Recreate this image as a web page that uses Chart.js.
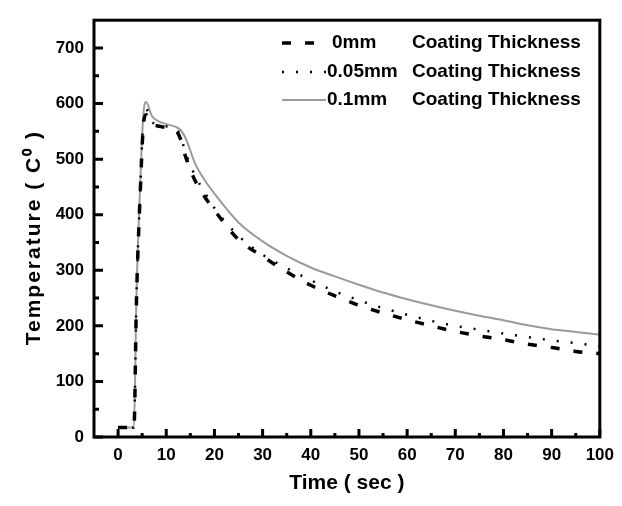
<!DOCTYPE html>
<html>
<head>
<meta charset="utf-8">
<script src="https://cdn.jsdelivr.net/npm/chart.js@4.4.1/dist/chart.umd.min.js"></script>
<style>
  html, body { margin: 0; padding: 0; background: #fff; }
  #wrap { width: 622px; height: 506px; }
</style>
</head>
<body>
<div id="wrap"><canvas id="tempChart" width="622" height="506"></canvas></div>
<script>
// values
const timeSec = [0, 3.3, 3.8, 4.6, 5.2, 5.8, 7, 8, 10, 12, 13, 14, 16, 18, 20, 25, 30, 35, 40, 45, 50, 55, 60, 65, 70, 75, 80, 85, 90, 95, 100];
const temp0mm = [17, 17, 240, 440, 555, 580, 563, 560, 557, 552, 535, 505, 461, 432, 408, 355, 325, 297, 273, 254, 237, 223, 211, 200, 190, 182, 175, 167, 161, 154, 150];
const temp005mm = [17, 17, 245, 445, 565, 590, 568, 562, 559, 555, 540, 512, 470, 440, 412, 362, 328, 304, 282, 262, 246, 232, 220, 209, 200, 193, 186, 180, 174, 169, 163];
const temp01mm = [17, 17, 250, 455, 575, 603, 578, 570, 563, 558, 552, 538, 492, 462, 438, 386, 352, 326, 305, 289, 274, 260, 248, 237, 227, 218, 210, 201, 194, 189, 184];

const thicknessLabels = ['0mm', '0.05mm', '0.1mm'];
const labelSuffix = 'Coating Thickness';
const xTitle = 'Time ( sec )';
const yTitle = 'Temperature ( C\u2070 )';

const FONT = '"Liberation Sans", Arial, sans-serif';
Chart.defaults.font.family = FONT;
Chart.defaults.color = '#000';

function toPoints(ys) {
  return timeSec.map((t, i) => ({ x: t, y: ys[i] }));
}

// frame, inward ticks (major + minor), y title and the legend block
const framePlugin = {
  id: 'frame',
  afterDraw(chart) {
    const { ctx, chartArea: a } = chart;
    const xs = chart.scales.x, ys = chart.scales.y;
    ctx.save();
    ctx.strokeStyle = '#000';
    ctx.lineWidth = 3;
    ctx.strokeRect(a.left, a.top, a.right - a.left, a.bottom - a.top);

    ctx.beginPath();
    for (let v = 0; v <= 100; v += 5) {
      const px = xs.getPixelForValue(v);
      const len = v % 10 === 0 ? 8 : 4;
      ctx.moveTo(px, a.bottom);
      ctx.lineTo(px, a.bottom - len);
    }
    for (let v = 0; v <= 700; v += 50) {
      const py = ys.getPixelForValue(v);
      const len = v % 100 === 0 ? 9 : 5;
      ctx.moveTo(a.left, py);
      ctx.lineTo(a.left + len, py);
    }
    ctx.stroke();

    // y title, a bit spaced out like the original
    ctx.save();
    ctx.translate(34, (a.top + a.bottom) / 2 + 9);
    ctx.rotate(-Math.PI / 2);
    ctx.font = 'bold 21px ' + FONT;
    ctx.letterSpacing = '2px';
    ctx.textAlign = 'center';
    ctx.textBaseline = 'middle';
    ctx.fillStyle = '#000';
    ctx.fillText(yTitle, 0, 0);
    ctx.restore();

    // legend
    const rowY = [43, 72, 100];
    ctx.font = 'bold 19px ' + FONT;
    ctx.textBaseline = 'middle';
    ctx.fillStyle = '#000';
    chart.data.datasets.forEach((ds, i) => {
      const y = rowY[i];
      ctx.save();
      ctx.strokeStyle = ds.borderColor;
      ctx.lineWidth = ds.borderWidth;
      ctx.setLineDash(ds.borderDash || []);
      ctx.beginPath();
      ctx.moveTo(282, y);
      ctx.lineTo(i === 0 ? 318 : 326, y);
      ctx.stroke();
      ctx.restore();
      ctx.fillText(thicknessLabels[i], i === 0 ? 332 : 327, y);
      ctx.fillText(labelSuffix, 412, y);
    });
    ctx.restore();
  }
};

const tickFont = { size: 17, weight: 'bold' };
const titleFont = { size: 21, weight: 'bold' };

new Chart(document.getElementById('tempChart'), {
  type: 'line',
  data: {
    datasets: [
      {
        label: thicknessLabels[0] + ' ' + labelSuffix,
        data: toPoints(temp0mm),
        borderColor: '#000',
        borderWidth: 3.5,
        borderDash: [9, 14]
      },
      {
        label: thicknessLabels[1] + ' ' + labelSuffix,
        data: toPoints(temp005mm),
        borderColor: '#000',
        borderWidth: 2.5,
        borderDash: [2, 12]
      },
      {
        label: thicknessLabels[2] + ' ' + labelSuffix,
        data: toPoints(temp01mm),
        borderColor: '#9a9a9a',
        borderWidth: 2,
        borderDash: []
      }
    ]
  },
  options: {
    responsive: false,
    animation: false,
    parsing: false,
    elements: {
      point: { radius: 0 },
      line: { cubicInterpolationMode: 'monotone', fill: false }
    },
    layout: { padding: { top: 9, right: 22, left: 0, bottom: 0 } },
    plugins: {
      legend: { display: false },
      tooltip: { enabled: false }
    },
    scales: {
      x: {
        type: 'linear',
        min: -5,
        max: 100,
        grid: { display: false, drawTicks: false },
        border: { display: false },
        ticks: { stepSize: 10, includeBounds: false, padding: 8, font: tickFont, maxRotation: 0 },
        title: { display: true, text: xTitle, font: titleFont, padding: { top: 0, bottom: 10 } },
        afterFit(s) { s.height = 69; }
      },
      y: {
        min: 0,
        max: 750,
        grid: { display: false, drawTicks: false },
        border: { display: false },
        ticks: { stepSize: 100, includeBounds: false, padding: 10, font: tickFont },
        title: { display: false, text: yTitle },
        afterFit(s) { s.width = 94; }
      }
    }
  },
  plugins: [framePlugin]
});
</script>
</body>
</html>
